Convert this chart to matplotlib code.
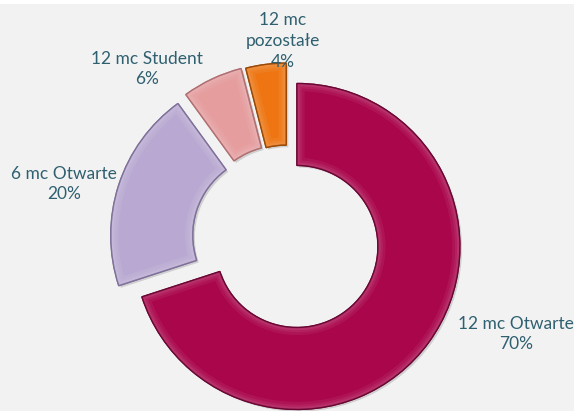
import matplotlib
matplotlib.use("Agg")
import matplotlib.pyplot as plt
import matplotlib.patheffects as pe
from matplotlib.patches import PathPatch

# ---- data ----
categories = ["12 mc Otwarte", "6 mc Otwarte", "12 mc Student", "12 mc\npozostałe"]
values = [70, 20, 6, 4]
colors = ["#A9064B", "#B9A9D2", "#E59D9E", "#EE7512"]
edge_colors = ["#6A0230", "#7E6F99", "#B06E70", "#9A4600"]
explode = [11, 15, 15, 14]  # offsets in pixel-like data units
label_pos = [(516, 334), (64, 184), (147, 69), (283, 41)]  # pixel positions (layout)

W, H = 574, 411
fig = plt.figure(figsize=(W / 100, H / 100), dpi=100, facecolor="white")
top_strip = 4
ax = fig.add_axes([0, 0, 1, (H - top_strip) / H])
ax.set_facecolor("#F2F2F2")

R = 163
width = 82
cx, cy = 288, H - 240

wedges, _ = ax.pie(values, radius=R, center=(cx, cy), startangle=90,
                   counterclock=False, explode=explode, colors=colors,
                   wedgeprops=dict(width=width, linewidth=1.0),
                   frame=True)
for w, ec in zip(wedges, edge_colors):
    w.set_edgecolor(ec)
    w.set_path_effects([pe.SimplePatchShadow(offset=(1.5, -1.5), alpha=0.22, shadow_rgbFace="#555555"),
                        pe.Normal()])
    # soft bevel: graded lighter band just inside the edge
    for k, (lw, a) in enumerate([(11, 0.06), (7, 0.06), (4, 0.07)]):
        band = PathPatch(w.get_path(), transform=w.get_transform(), facecolor="none",
                         edgecolor="white", alpha=a, linewidth=lw,
                         zorder=w.get_zorder() + 0.1 + 0.01 * k)
        ax.add_patch(band)
        band.set_clip_path(w)
    rim = PathPatch(w.get_path(), transform=w.get_transform(), facecolor="none",
                    edgecolor=ec, linewidth=0.9, alpha=0.85, zorder=w.get_zorder() + 0.3)
    ax.add_patch(rim)

ax.set_xlim(0, W)
ax.set_ylim(0, H - top_strip)
ax.set_aspect("auto")
ax.set_xticks([])
ax.set_yticks([])
for s in ax.spines.values():
    s.set_visible(False)

txt_color = "#2F6070"
for cat, v, (px, py) in zip(categories, values, label_pos):
    ax.text(px, H - py, f"{cat}\n{v}%", ha="center", va="center",
            fontsize=12.5, color=txt_color, family=["Lato", "DejaVu Sans"],
            linespacing=1.35, zorder=10)

fig.savefig("out.png", dpi=100, facecolor=fig.get_facecolor())
